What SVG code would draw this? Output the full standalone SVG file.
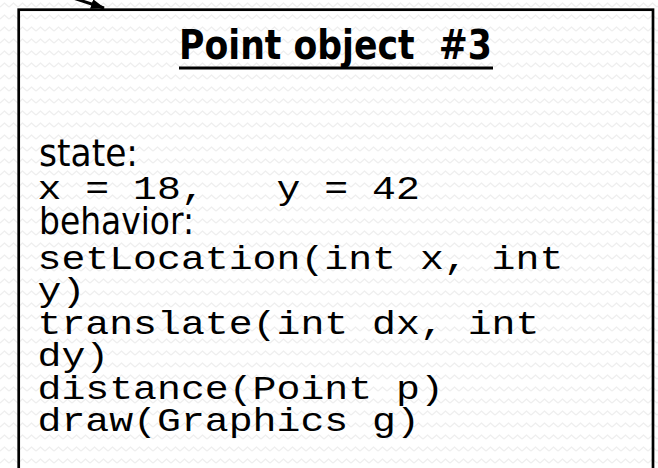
<svg xmlns="http://www.w3.org/2000/svg" width="658" height="468" viewBox="0 0 658 468">
  <defs>
    <pattern id="bg" width="9" height="12" patternUnits="userSpaceOnUse">
      <rect width="9" height="12" fill="#ffffff"/>
      <path d="M0 7 L4.5 3 L9 7" fill="none" stroke="#eeeeee" stroke-width="1.3"/>
    </pattern>
    <marker id="head" markerWidth="14" markerHeight="10" refX="13" refY="5" orient="auto" markerUnits="userSpaceOnUse">
      <path d="M0 0 L14 5 L0 10 Z" fill="#000"/>
    </marker>
    <style>
      .title { font-family: "DejaVu Sans", "Liberation Sans", sans-serif; font-weight: bold; font-size: 40px; fill: #000; }
      .label { font-family: "DejaVu Sans", "Liberation Sans", sans-serif; font-size: 38px; fill: #000; }
      .code { font-family: "Liberation Mono", "Courier New", monospace; font-size: 33px; fill: #000; }
      .box { fill: none; stroke: #000; stroke-width: 2.7; }
      .conn { fill: none; stroke: #000; stroke-width: 3; }
    </style>
  </defs>
  <rect x="0" y="0" width="658" height="468" fill="url(#bg)"/>

  <g id="connectors">
    <path class="conn" d="M70 -3 L104 8" marker-end="url(#head)"/>
  </g>

  <g id="point-object-3">
    <rect class="box" x="18.7" y="9.7" width="634.3" height="520"/>
    <text class="title" x="179" y="59" textLength="313" lengthAdjust="spacingAndGlyphs" xml:space="preserve">Point object  #3</text>
    <line x1="179" y1="68" x2="493" y2="68" stroke="#000" stroke-width="3"/>
    <text class="label" x="39" y="166" textLength="99" lengthAdjust="spacingAndGlyphs">state:</text>
    <text class="code" x="37.5" y="198.5" textLength="382.4" lengthAdjust="spacingAndGlyphs" xml:space="preserve">x = 18,   y = 42</text>
    <text class="label" x="39" y="234" textLength="155" lengthAdjust="spacingAndGlyphs">behavior:</text>
    <text class="code" x="37.5" y="268.5" textLength="525.8" lengthAdjust="spacingAndGlyphs" xml:space="preserve">setLocation(int x, int</text>
    <text class="code" x="37.5" y="301" textLength="47.8" lengthAdjust="spacingAndGlyphs">y)</text>
    <text class="code" x="37.5" y="333.5" textLength="501.9" lengthAdjust="spacingAndGlyphs" xml:space="preserve">translate(int dx, int</text>
    <text class="code" x="37.5" y="366" textLength="71.7" lengthAdjust="spacingAndGlyphs">dy)</text>
    <text class="code" x="37.5" y="398.5" textLength="406.3" lengthAdjust="spacingAndGlyphs" xml:space="preserve">distance(Point p)</text>
    <text class="code" x="37.5" y="431" textLength="382.4" lengthAdjust="spacingAndGlyphs" xml:space="preserve">draw(Graphics g)</text>
  </g>
</svg>
